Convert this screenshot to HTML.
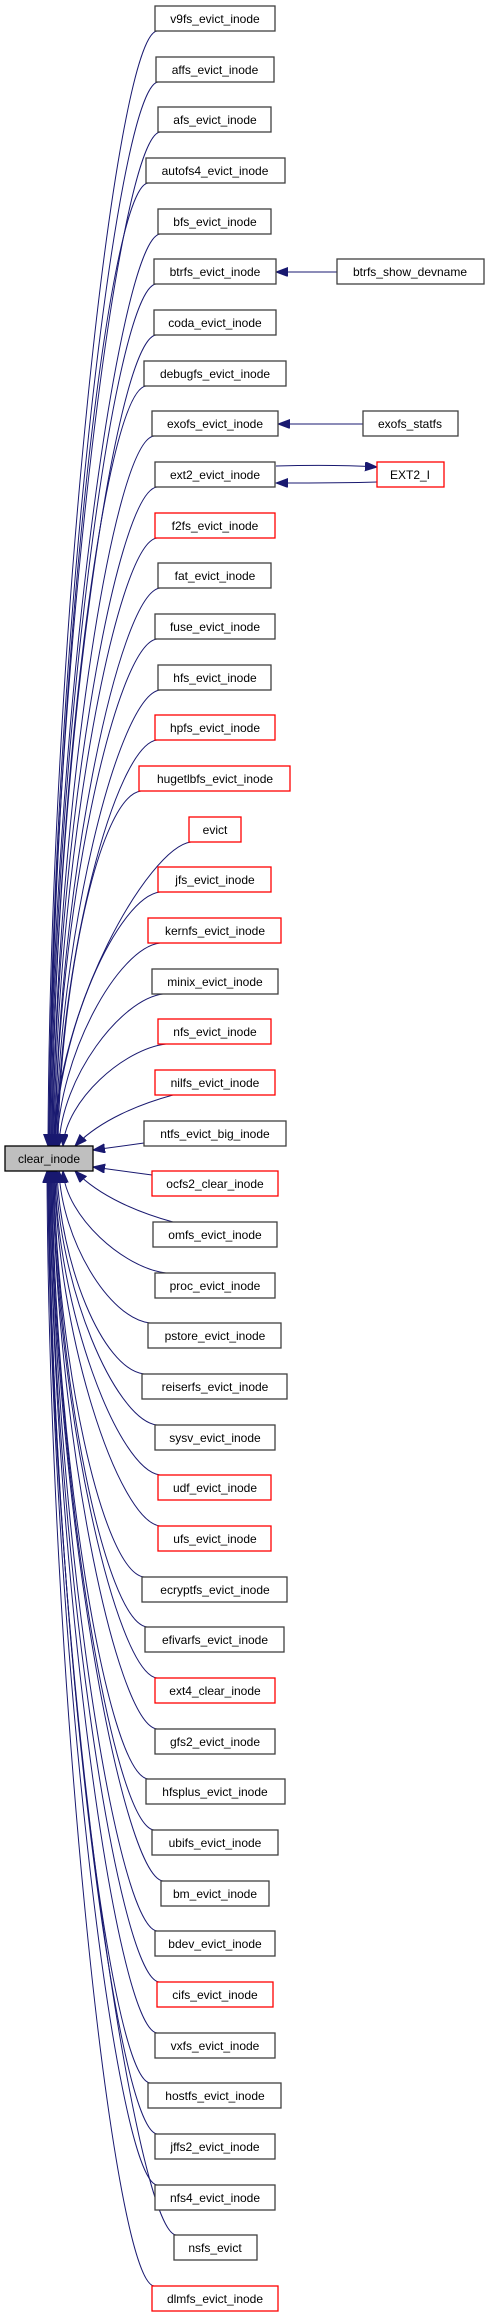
<!DOCTYPE html>
<html><head><meta charset="utf-8"><style>
html,body{margin:0;padding:0;background:#fff;}
svg{display:block;}
text{font-family:"Liberation Sans",sans-serif;font-size:12px;fill:#000;text-anchor:middle;}
.n{fill:#fff;stroke:#404040;stroke-width:1.3;}
.r{fill:#fff;stroke:#ff0000;stroke-width:1.3;}
.e{fill:none;stroke:#191970;stroke-width:1;}
</style></head><body>
<svg width="489" height="2317" viewBox="0 0 489 2317" xmlns="http://www.w3.org/2000/svg">
<defs><marker id="a" markerUnits="userSpaceOnUse" markerWidth="13" markerHeight="10" refX="12" refY="4.5" orient="auto"><path d="M0,0 L12,4.5 L0,9 Z" fill="#191970" stroke="#191970"/></marker></defs>
<g class="e" marker-end="url(#a)">
<path d="M157,31 C115,36 50,644 48,1146"/>
<path d="M158,82 C116,87 51,667 49,1146"/>
<path d="M160,132 C118,137 51,690 49,1146"/>
<path d="M148,183 C106,188 52,713 50,1146"/>
<path d="M160,234 C118,239 52,736 50,1146"/>
<path d="M156,284 C114,289 53,758 51,1146"/>
<path d="M156,335 C114,340 54,781 52,1146"/>
<path d="M146,386 C104,391 54,804 52,1146"/>
<path d="M154,436 C112,441 55,827 53,1146"/>
<path d="M157,487 C115,492 55,849 53,1146"/>
<path d="M157,538 C115,543 56,872 54,1146"/>
<path d="M160,588 C118,593 57,895 55,1146"/>
<path d="M157,639 C115,644 57,918 55,1146"/>
<path d="M160,690 C118,695 58,941 56,1146"/>
<path d="M157,740 C115,745 59,963 57,1146"/>
<path d="M141,791 C99,796 60,986 58,1146"/>
<path d="M191,842 C149,847 56,1009 54,1146"/>
<path d="M160,892 C118,897 57,1032 55,1146"/>
<path d="M160,943 C118,948 59,1055 57,1146"/>
<path d="M163,994 C121,999 61,1078 59,1146"/>
<path d="M166,1044 C124,1049 66,1100 63,1146"/>
<path d="M173,1095 C140,1104 100,1120 75,1146"/>
<path d="M144,1143 L93,1150"/>
<path d="M152,1175 L93,1167"/>
<path d="M173,1222 C140,1213 100,1197 75,1171"/>
<path d="M166,1273 C124,1268 66,1217 63,1171"/>
<path d="M150,1323 C108,1318 62,1239 59,1171"/>
<path d="M144,1374 C102,1369 60,1262 57,1171"/>
<path d="M157,1425 C115,1420 58,1285 56,1171"/>
<path d="M160,1475 C118,1470 57,1308 55,1171"/>
<path d="M160,1526 C118,1521 56,1331 55,1171"/>
<path d="M144,1577 C102,1572 56,1354 54,1171"/>
<path d="M147,1627 C105,1622 56,1376 54,1171"/>
<path d="M157,1678 C115,1673 55,1399 53,1171"/>
<path d="M157,1729 C115,1724 55,1422 53,1171"/>
<path d="M148,1779 C106,1774 54,1445 52,1171"/>
<path d="M154,1830 C112,1825 54,1468 52,1171"/>
<path d="M163,1881 C121,1876 53,1491 51,1171"/>
<path d="M157,1931 C115,1926 53,1513 51,1171"/>
<path d="M159,1982 C117,1977 52,1536 50,1171"/>
<path d="M157,2033 C115,2028 52,1559 50,1171"/>
<path d="M150,2083 C108,2078 51,1581 49,1171"/>
<path d="M157,2134 C115,2129 51,1604 49,1171"/>
<path d="M157,2185 C115,2180 50,1627 48,1171"/>
<path d="M176,2235 C134,2230 50,1650 48,1171"/>
<path d="M154,2286 C112,2281 49,1673 47,1171"/>
<path d="M337,272 L276,272"/>
<path d="M363,424 L278,424"/>
<path d="M276,466 C310,465 345,465 377,467"/>
<path d="M377,482 C345,483 310,483 276,483"/>
</g>
<rect x="5" y="1146" width="88" height="25" fill="#bfbfbf" stroke="#000" stroke-width="1.3"/>
<text x="49" y="1163">clear_inode</text>
<rect class="n" x="155" y="6" width="120" height="25"/><text x="215" y="23">v9fs_evict_inode</text>
<rect class="n" x="156" y="57" width="118" height="25"/><text x="215" y="74">affs_evict_inode</text>
<rect class="n" x="158" y="107" width="113" height="25"/><text x="215" y="124">afs_evict_inode</text>
<rect class="n" x="146" y="158" width="139" height="25"/><text x="215" y="175">autofs4_evict_inode</text>
<rect class="n" x="158" y="209" width="113" height="25"/><text x="215" y="226">bfs_evict_inode</text>
<rect class="n" x="154" y="259" width="122" height="25"/><text x="215" y="276">btrfs_evict_inode</text>
<rect class="n" x="154" y="310" width="122" height="25"/><text x="215" y="327">coda_evict_inode</text>
<rect class="n" x="144" y="361" width="142" height="25"/><text x="215" y="378">debugfs_evict_inode</text>
<rect class="n" x="152" y="411" width="126" height="25"/><text x="215" y="428">exofs_evict_inode</text>
<rect class="n" x="155" y="462" width="120" height="25"/><text x="215" y="479">ext2_evict_inode</text>
<rect class="r" x="155" y="513" width="120" height="25"/><text x="215" y="530">f2fs_evict_inode</text>
<rect class="n" x="158" y="563" width="113" height="25"/><text x="215" y="580">fat_evict_inode</text>
<rect class="n" x="155" y="614" width="120" height="25"/><text x="215" y="631">fuse_evict_inode</text>
<rect class="n" x="158" y="665" width="113" height="25"/><text x="215" y="682">hfs_evict_inode</text>
<rect class="r" x="155" y="715" width="120" height="25"/><text x="215" y="732">hpfs_evict_inode</text>
<rect class="r" x="139" y="766" width="151" height="25"/><text x="215" y="783">hugetlbfs_evict_inode</text>
<rect class="r" x="189" y="817" width="52" height="25"/><text x="215" y="834">evict</text>
<rect class="r" x="158" y="867" width="113" height="25"/><text x="215" y="884">jfs_evict_inode</text>
<rect class="r" x="148" y="918" width="133" height="25"/><text x="215" y="935">kernfs_evict_inode</text>
<rect class="n" x="152" y="969" width="126" height="25"/><text x="215" y="986">minix_evict_inode</text>
<rect class="r" x="158" y="1019" width="113" height="25"/><text x="215" y="1036">nfs_evict_inode</text>
<rect class="r" x="155" y="1070" width="120" height="25"/><text x="215" y="1087">nilfs_evict_inode</text>
<rect class="n" x="144" y="1121" width="142" height="25"/><text x="215" y="1138">ntfs_evict_big_inode</text>
<rect class="r" x="152" y="1171" width="126" height="25"/><text x="215" y="1188">ocfs2_clear_inode</text>
<rect class="n" x="153" y="1222" width="124" height="25"/><text x="215" y="1239">omfs_evict_inode</text>
<rect class="n" x="155" y="1273" width="120" height="25"/><text x="215" y="1290">proc_evict_inode</text>
<rect class="n" x="148" y="1323" width="133" height="25"/><text x="215" y="1340">pstore_evict_inode</text>
<rect class="n" x="142" y="1374" width="145" height="25"/><text x="215" y="1391">reiserfs_evict_inode</text>
<rect class="n" x="155" y="1425" width="120" height="25"/><text x="215" y="1442">sysv_evict_inode</text>
<rect class="r" x="158" y="1475" width="113" height="25"/><text x="215" y="1492">udf_evict_inode</text>
<rect class="r" x="158" y="1526" width="113" height="25"/><text x="215" y="1543">ufs_evict_inode</text>
<rect class="n" x="142" y="1577" width="145" height="25"/><text x="215" y="1594">ecryptfs_evict_inode</text>
<rect class="n" x="145" y="1627" width="139" height="25"/><text x="215" y="1644">efivarfs_evict_inode</text>
<rect class="r" x="155" y="1678" width="120" height="25"/><text x="215" y="1695">ext4_clear_inode</text>
<rect class="n" x="155" y="1729" width="120" height="25"/><text x="215" y="1746">gfs2_evict_inode</text>
<rect class="n" x="146" y="1779" width="139" height="25"/><text x="215" y="1796">hfsplus_evict_inode</text>
<rect class="n" x="152" y="1830" width="126" height="25"/><text x="215" y="1847">ubifs_evict_inode</text>
<rect class="n" x="161" y="1881" width="108" height="25"/><text x="215" y="1898">bm_evict_inode</text>
<rect class="n" x="155" y="1931" width="120" height="25"/><text x="215" y="1948">bdev_evict_inode</text>
<rect class="r" x="157" y="1982" width="116" height="25"/><text x="215" y="1999">cifs_evict_inode</text>
<rect class="n" x="155" y="2033" width="120" height="25"/><text x="215" y="2050">vxfs_evict_inode</text>
<rect class="n" x="148" y="2083" width="133" height="25"/><text x="215" y="2100">hostfs_evict_inode</text>
<rect class="n" x="155" y="2134" width="120" height="25"/><text x="215" y="2151">jffs2_evict_inode</text>
<rect class="n" x="155" y="2185" width="120" height="25"/><text x="215" y="2202">nfs4_evict_inode</text>
<rect class="n" x="174" y="2235" width="83" height="25"/><text x="215" y="2252">nsfs_evict</text>
<rect class="r" x="152" y="2286" width="126" height="25"/><text x="215" y="2303">dlmfs_evict_inode</text>
<rect class="n" x="337" y="259" width="147" height="25"/><text x="410" y="276">btrfs_show_devname</text>
<rect class="n" x="363" y="411" width="95" height="25"/><text x="410" y="428">exofs_statfs</text>
<rect class="r" x="377" y="462" width="67" height="25"/><text x="410" y="479">EXT2_I</text>
</svg>
</body></html>
